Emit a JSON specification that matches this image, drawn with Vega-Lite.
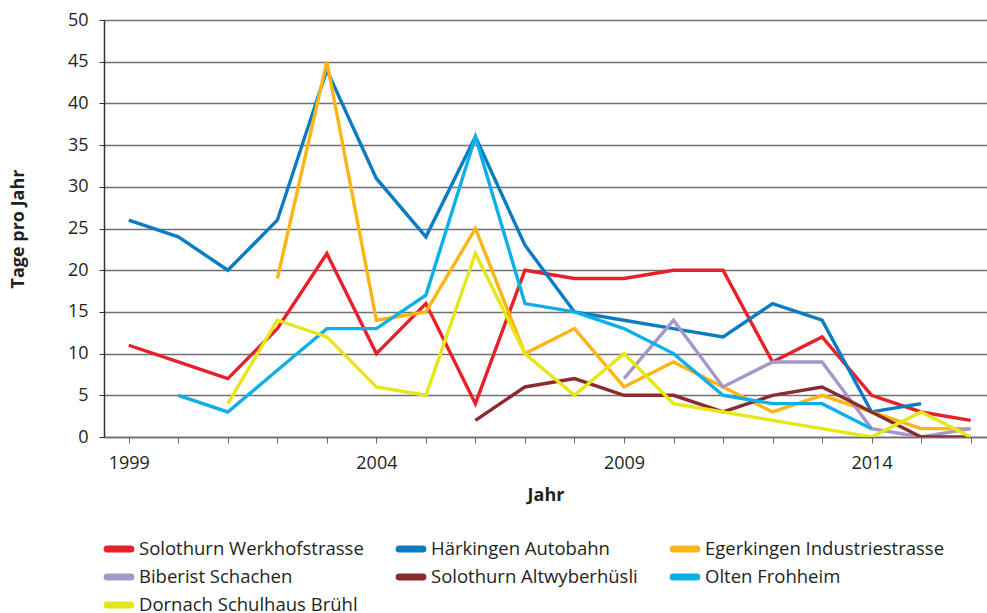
{
  "$schema": "https://vega.github.io/schema/vega-lite/v6.json",
  "autosize": {"type": "none"},
  "padding": {"left": 104, "top": 20, "right": 0, "bottom": 176},
  "width": 883,
  "height": 417,
  "background": "white",
  "config": {
    "view": {"stroke": null},
    "font": "Open Sans",
    "axis": {"labelFont": "Open Sans", "titleFont": "Open Sans", "labelColor": "#231F20", "titleColor": "#231F20"}
  },
  "data": {"values": [
    {"Jahr": 1999, "Station": "Solothurn Werkhofstrasse", "Tage": 11},
    {"Jahr": 2000, "Station": "Solothurn Werkhofstrasse", "Tage": 9},
    {"Jahr": 2001, "Station": "Solothurn Werkhofstrasse", "Tage": 7},
    {"Jahr": 2002, "Station": "Solothurn Werkhofstrasse", "Tage": 13},
    {"Jahr": 2003, "Station": "Solothurn Werkhofstrasse", "Tage": 22},
    {"Jahr": 2004, "Station": "Solothurn Werkhofstrasse", "Tage": 10},
    {"Jahr": 2005, "Station": "Solothurn Werkhofstrasse", "Tage": 16},
    {"Jahr": 2006, "Station": "Solothurn Werkhofstrasse", "Tage": 4},
    {"Jahr": 2007, "Station": "Solothurn Werkhofstrasse", "Tage": 20},
    {"Jahr": 2008, "Station": "Solothurn Werkhofstrasse", "Tage": 19},
    {"Jahr": 2009, "Station": "Solothurn Werkhofstrasse", "Tage": 19},
    {"Jahr": 2010, "Station": "Solothurn Werkhofstrasse", "Tage": 20},
    {"Jahr": 2011, "Station": "Solothurn Werkhofstrasse", "Tage": 20},
    {"Jahr": 2012, "Station": "Solothurn Werkhofstrasse", "Tage": 9},
    {"Jahr": 2013, "Station": "Solothurn Werkhofstrasse", "Tage": 12},
    {"Jahr": 2014, "Station": "Solothurn Werkhofstrasse", "Tage": 5},
    {"Jahr": 2015, "Station": "Solothurn Werkhofstrasse", "Tage": 3},
    {"Jahr": 2016, "Station": "Solothurn Werkhofstrasse", "Tage": 2},

    {"Jahr": 1999, "Station": "Härkingen Autobahn", "Tage": 26},
    {"Jahr": 2000, "Station": "Härkingen Autobahn", "Tage": 24},
    {"Jahr": 2001, "Station": "Härkingen Autobahn", "Tage": 20},
    {"Jahr": 2002, "Station": "Härkingen Autobahn", "Tage": 26},
    {"Jahr": 2003, "Station": "Härkingen Autobahn", "Tage": 44},
    {"Jahr": 2004, "Station": "Härkingen Autobahn", "Tage": 31},
    {"Jahr": 2005, "Station": "Härkingen Autobahn", "Tage": 24},
    {"Jahr": 2006, "Station": "Härkingen Autobahn", "Tage": 36},
    {"Jahr": 2007, "Station": "Härkingen Autobahn", "Tage": 23},
    {"Jahr": 2008, "Station": "Härkingen Autobahn", "Tage": 15},
    {"Jahr": 2009, "Station": "Härkingen Autobahn", "Tage": 14},
    {"Jahr": 2010, "Station": "Härkingen Autobahn", "Tage": 13},
    {"Jahr": 2011, "Station": "Härkingen Autobahn", "Tage": 12},
    {"Jahr": 2012, "Station": "Härkingen Autobahn", "Tage": 16},
    {"Jahr": 2013, "Station": "Härkingen Autobahn", "Tage": 14},
    {"Jahr": 2014, "Station": "Härkingen Autobahn", "Tage": 3},
    {"Jahr": 2015, "Station": "Härkingen Autobahn", "Tage": 4},

    {"Jahr": 2002, "Station": "Egerkingen Industriestrasse", "Tage": 19},
    {"Jahr": 2003, "Station": "Egerkingen Industriestrasse", "Tage": 45},
    {"Jahr": 2004, "Station": "Egerkingen Industriestrasse", "Tage": 14},
    {"Jahr": 2005, "Station": "Egerkingen Industriestrasse", "Tage": 15},
    {"Jahr": 2006, "Station": "Egerkingen Industriestrasse", "Tage": 25},
    {"Jahr": 2007, "Station": "Egerkingen Industriestrasse", "Tage": 10},
    {"Jahr": 2008, "Station": "Egerkingen Industriestrasse", "Tage": 13},
    {"Jahr": 2009, "Station": "Egerkingen Industriestrasse", "Tage": 6},
    {"Jahr": 2010, "Station": "Egerkingen Industriestrasse", "Tage": 9},
    {"Jahr": 2011, "Station": "Egerkingen Industriestrasse", "Tage": 6},
    {"Jahr": 2012, "Station": "Egerkingen Industriestrasse", "Tage": 3},
    {"Jahr": 2013, "Station": "Egerkingen Industriestrasse", "Tage": 5},
    {"Jahr": 2014, "Station": "Egerkingen Industriestrasse", "Tage": 3},
    {"Jahr": 2015, "Station": "Egerkingen Industriestrasse", "Tage": 1},
    {"Jahr": 2016, "Station": "Egerkingen Industriestrasse", "Tage": 1},

    {"Jahr": 2009, "Station": "Biberist Schachen", "Tage": 7},
    {"Jahr": 2010, "Station": "Biberist Schachen", "Tage": 14},
    {"Jahr": 2011, "Station": "Biberist Schachen", "Tage": 6},
    {"Jahr": 2012, "Station": "Biberist Schachen", "Tage": 9},
    {"Jahr": 2013, "Station": "Biberist Schachen", "Tage": 9},
    {"Jahr": 2014, "Station": "Biberist Schachen", "Tage": 1},
    {"Jahr": 2015, "Station": "Biberist Schachen", "Tage": 0},
    {"Jahr": 2016, "Station": "Biberist Schachen", "Tage": 1},

    {"Jahr": 2006, "Station": "Solothurn Altwyberhüsli", "Tage": 2},
    {"Jahr": 2007, "Station": "Solothurn Altwyberhüsli", "Tage": 6},
    {"Jahr": 2008, "Station": "Solothurn Altwyberhüsli", "Tage": 7},
    {"Jahr": 2009, "Station": "Solothurn Altwyberhüsli", "Tage": 5},
    {"Jahr": 2010, "Station": "Solothurn Altwyberhüsli", "Tage": 5},
    {"Jahr": 2011, "Station": "Solothurn Altwyberhüsli", "Tage": 3},
    {"Jahr": 2012, "Station": "Solothurn Altwyberhüsli", "Tage": 5},
    {"Jahr": 2013, "Station": "Solothurn Altwyberhüsli", "Tage": 6},
    {"Jahr": 2014, "Station": "Solothurn Altwyberhüsli", "Tage": 3},
    {"Jahr": 2015, "Station": "Solothurn Altwyberhüsli", "Tage": 0},
    {"Jahr": 2016, "Station": "Solothurn Altwyberhüsli", "Tage": 0},

    {"Jahr": 2000, "Station": "Olten Frohheim", "Tage": 5},
    {"Jahr": 2001, "Station": "Olten Frohheim", "Tage": 3},
    {"Jahr": 2002, "Station": "Olten Frohheim", "Tage": 8},
    {"Jahr": 2003, "Station": "Olten Frohheim", "Tage": 13},
    {"Jahr": 2004, "Station": "Olten Frohheim", "Tage": 13},
    {"Jahr": 2005, "Station": "Olten Frohheim", "Tage": 17},
    {"Jahr": 2006, "Station": "Olten Frohheim", "Tage": 36},
    {"Jahr": 2007, "Station": "Olten Frohheim", "Tage": 16},
    {"Jahr": 2008, "Station": "Olten Frohheim", "Tage": 15},
    {"Jahr": 2009, "Station": "Olten Frohheim", "Tage": 13},
    {"Jahr": 2010, "Station": "Olten Frohheim", "Tage": 10},
    {"Jahr": 2011, "Station": "Olten Frohheim", "Tage": 5},
    {"Jahr": 2012, "Station": "Olten Frohheim", "Tage": 4},
    {"Jahr": 2013, "Station": "Olten Frohheim", "Tage": 4},
    {"Jahr": 2014, "Station": "Olten Frohheim", "Tage": 1},

    {"Jahr": 2001, "Station": "Dornach Schulhaus Brühl", "Tage": 4},
    {"Jahr": 2002, "Station": "Dornach Schulhaus Brühl", "Tage": 14},
    {"Jahr": 2003, "Station": "Dornach Schulhaus Brühl", "Tage": 12},
    {"Jahr": 2004, "Station": "Dornach Schulhaus Brühl", "Tage": 6},
    {"Jahr": 2005, "Station": "Dornach Schulhaus Brühl", "Tage": 5},
    {"Jahr": 2006, "Station": "Dornach Schulhaus Brühl", "Tage": 22},
    {"Jahr": 2007, "Station": "Dornach Schulhaus Brühl", "Tage": 10},
    {"Jahr": 2008, "Station": "Dornach Schulhaus Brühl", "Tage": 5},
    {"Jahr": 2009, "Station": "Dornach Schulhaus Brühl", "Tage": 10},
    {"Jahr": 2010, "Station": "Dornach Schulhaus Brühl", "Tage": 4},
    {"Jahr": 2011, "Station": "Dornach Schulhaus Brühl", "Tage": 3},
    {"Jahr": 2012, "Station": "Dornach Schulhaus Brühl", "Tage": 2},
    {"Jahr": 2013, "Station": "Dornach Schulhaus Brühl", "Tage": 1},
    {"Jahr": 2014, "Station": "Dornach Schulhaus Brühl", "Tage": 0},
    {"Jahr": 2015, "Station": "Dornach Schulhaus Brühl", "Tage": 3},
    {"Jahr": 2016, "Station": "Dornach Schulhaus Brühl", "Tage": 0}
  ]},
  "mark": {"type": "line", "strokeWidth": 3.4, "clip": true},
  "encoding": {
    "x": {
      "field": "Jahr", "type": "quantitative",
      "scale": {"domain": [1998.5, 2016.33], "nice": false, "zero": false},
      "axis": {
        "title": "Jahr", "titleFontWeight": "bold", "titleFontSize": 18, "titlePadding": 14,
        "values": [1999, 2000, 2001, 2002, 2003, 2004, 2005, 2006, 2007, 2008, 2009, 2010, 2011, 2012, 2013, 2014, 2015, 2016],
        "labelExpr": "(datum.value - 1999) % 5 == 0 ? datum.label : ''",
        "format": "d", "labelFontSize": 18, "labelPadding": 11,
        "grid": false, "domainColor": "#6d6d6d", "domainWidth": 1.5,
        "tickColor": "#6d6d6d", "tickSize": 6, "tickWidth": 1
      }
    },
    "y": {
      "field": "Tage", "type": "quantitative",
      "scale": {"domain": [0, 50], "nice": false},
      "axis": {
        "title": "Tage pro Jahr", "titleFontWeight": "bold", "titleFontSize": 18, "titlePadding": 40,
        "values": [0, 5, 10, 15, 20, 25, 30, 35, 40, 45, 50],
        "labelFontSize": 18, "labelPadding": 11,
        "grid": true, "gridColor": "#707070", "gridWidth": 1.5,
        "domainColor": "#333333", "domainWidth": 1.5,
        "tickColor": "#333333", "tickSize": 5, "tickWidth": 1
      }
    },
    "color": {
      "field": "Station", "type": "nominal",
      "scale": {
        "domain": ["Solothurn Werkhofstrasse", "Biberist Schachen", "Olten Frohheim", "Härkingen Autobahn", "Solothurn Altwyberhüsli", "Dornach Schulhaus Brühl", "Egerkingen Industriestrasse"],
        "range": ["#E8202A", "#A497C9", "#0DB0E6", "#0A7DC2", "#8A2B2D", "#E6E619", "#FDB515"]
      },
      "legend": {
        "title": null, "orient": "none", "legendX": 3, "legendY": 517,
        "columns": 3, "columnPadding": 21, "rowPadding": 0,
        "symbolType": "M-1.4,0H1.4", "symbolStrokeWidth": 7, "symbolSize": 289,
        "labelFontSize": 18.5, "labelFont": "Open Sans", "labelColor": "#231F20", "labelOffset": 8,
        "labelLimit": 400,
        "encode": {"symbols": {"update": {"strokeCap": {"value": "round"}, "fill": {"value": "transparent"}}}}
      }
    }
  }
}
